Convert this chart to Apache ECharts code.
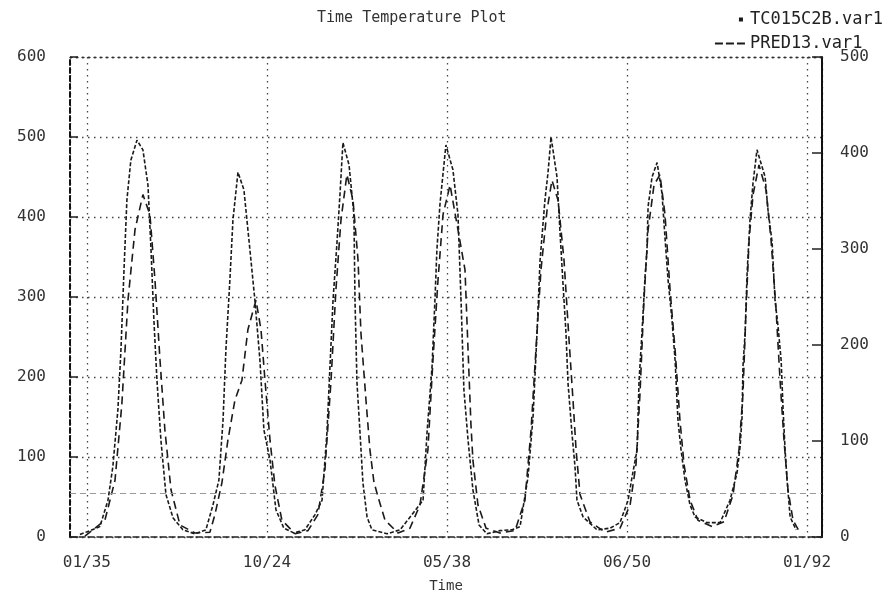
<!DOCTYPE html>
<html>
<head>
<meta charset="utf-8">
<script src="https://cdn.jsdelivr.net/npm/echarts@6/dist/echarts.min.js"></script>
<style>
html,body{margin:0;padding:0;background:#fff;}
#chart{width:894px;height:599px;}
</style>
</head>
<body>
<div id="chart"></div>
<script>
// ---- data ----
const titleText = 'Time Temperature Plot';
const seriesNames = ['TC015C2B.var1', 'PRED13.var1'];
const xLabels = ['01/35', '10/24', '05/38', '06/50', '01/92'];
const leftTicks = [0, 100, 200, 300, 400, 500, 600];
const rightTicks = [0, 100, 200, 300, 400, 500];
const refLevel = 55;

const timeA = [-0.039,0.072,0.117,0.144,0.172,0.189,0.206,0.222,0.244,0.278,0.311,0.339,0.356,0.372,0.389,0.411,0.439,0.478,0.533,0.600,0.661,
  0.700,0.733,0.756,0.772,0.794,0.811,0.839,0.872,0.900,0.933,0.961,0.983,1.017,1.050,1.094,1.150,1.211,
  1.267,1.306,1.333,1.350,1.367,1.389,1.406,1.422,1.456,1.483,1.489,1.500,1.517,1.533,1.556,1.583,1.667,1.739,
  1.806,1.867,1.889,1.917,1.933,1.944,1.961,1.994,2.033,2.061,2.078,2.094,2.117,2.144,2.178,2.222,2.294,2.361,
  2.406,2.450,2.478,2.500,2.517,2.544,2.561,2.578,2.611,2.628,2.644,2.661,2.672,2.694,2.711,2.722,2.756,2.833,2.906,2.961,
  3.006,3.028,3.056,3.067,3.083,3.100,3.111,3.117,3.139,3.167,3.194,3.211,3.228,3.250,3.267,3.283,3.300,3.322,3.350,3.378,3.444,3.517,
  3.572,3.611,3.628,3.639,3.644,3.656,3.667,3.683,3.700,3.722,3.767,3.783,3.806,3.822,3.839,3.856,3.867,3.878,3.889,3.906,3.939];
const tempA = [3,13,46,88,159,234,334,421,471,496,484,440,359,271,196,121,53,24,9,4,9,
  40,71,146,234,321,396,456,434,371,296,221,134,96,34,11,5,9,
  28,46,130,213,296,368,430,493,465,403,296,193,130,68,25,9,4,9,
  28,46,130,213,296,359,416,490,459,403,296,184,121,59,15,4,8,9,
  13,75,150,255,346,421,455,500,450,380,318,255,193,130,88,46,25,9,11,18,
  46,75,109,196,255,325,359,413,450,468,430,374,321,271,221,146,109,71,40,25,18,18,
  46,80,113,150,213,255,330,396,443,484,450,409,368,296,263,221,159,109,71,25,9];

const timeB = [-0.011,0.100,0.156,0.194,0.228,0.267,0.311,0.350,0.378,0.406,0.433,0.467,0.517,0.600,0.683,
  0.711,0.750,0.783,0.822,0.861,0.894,0.939,0.967,0.989,1.017,1.044,1.083,1.156,1.228,
  1.283,1.322,1.356,1.383,1.411,1.444,1.478,1.506,1.522,1.550,1.572,1.594,1.617,1.656,1.728,
  1.794,1.850,1.894,1.922,1.950,1.978,2.017,2.061,2.100,2.117,2.133,2.144,2.172,2.217,2.294,
  2.378,2.433,2.467,2.494,2.522,2.556,2.583,2.617,2.650,2.678,2.700,2.717,2.739,2.794,2.878,2.961,
  3.017,3.050,3.072,3.094,3.117,3.150,3.183,3.211,3.239,3.267,3.294,3.317,3.350,3.394,3.472,3.539,
  3.589,3.622,3.644,3.661,3.678,3.700,3.733,3.772,3.800,3.828,3.850,3.872,3.894,3.922,3.961];
const tempB = [1,21,71,166,296,384,428,403,321,221,134,59,15,5,6,
  28,68,121,171,196,259,296,259,196,121,65,21,4,8,
  28,84,196,309,396,453,421,346,255,171,109,69,50,21,5,
  11,40,109,221,321,403,440,384,334,234,141,96,40,11,5,
  8,46,134,234,334,409,446,421,346,246,171,109,53,19,6,11,
  40,91,179,296,384,440,453,403,309,234,146,90,46,21,13,19,
  53,109,179,284,371,428,465,434,371,284,196,121,59,21,5];

const xMin = -0.094, xMax = 4.083;

const pairs = (xs, ys) => xs.map((x, i) => [x, ys[i]]);
const mono = '"DejaVu Sans Mono", "Liberation Mono", monospace';
const ink = '#1a1a1a';

const chart = echarts.init(document.getElementById('chart'), null, {renderer: 'canvas'});
chart.setOption({
  animation: false,
  backgroundColor: '#ffffff',
  title: {
    text: titleText,
    left: 312, top: 6,
    textStyle: {fontFamily: mono, fontSize: 15, fontWeight: 'normal', color: '#333'}
  },
  legend: {
    orient: 'vertical', right: 6, top: 6, itemGap: 7, itemWidth: 30, itemHeight: 10,
    align: 'left', symbolKeepAspect: true,
    textStyle: {fontFamily: mono, fontSize: 17, color: '#222'},
    data: [
      {name: seriesNames[0], icon: 'path://M22,3h4v4h-4z M0,0h0.1v0.1h-0.1z M0,9.9h0.1v0.1h-0.1z'},
      {name: seriesNames[1], icon: 'path://M0,4h8v2h-8z M11,4h8v2h-8z M22,4h8v2h-8z'}
    ]
  },
  grid: {left: 70, right: 72, top: 57, bottom: 62, show: false},
  xAxis: [{
    type: 'value', min: xMin, max: xMax, position: 'bottom',
    name: 'Time', nameLocation: 'middle', nameGap: 42,
    nameTextStyle: {fontFamily: mono, fontSize: 14, color: '#333'},
    axisLine: {show: true, onZero: false, lineStyle: {color: '#222', width: 1.5, type: [6, 3]}},
    axisTick: {show: false},
    axisLabel: {
      margin: 18, fontFamily: mono, fontSize: 16, color: '#333',
      formatter: v => { const i = Math.round(v); return Math.abs(v - i) < 1e-6 && i >= 0 && i < xLabels.length ? xLabels[i] : ''; }
    },
    splitLine: {show: true, lineStyle: {color: '#444', width: 1.3, type: [1.5, 4.5]}}
  }, {
    type: 'value', min: xMin, max: xMax, position: 'top',
    axisLine: {show: true, onZero: false, lineStyle: {color: '#333', width: 1.3, type: [2, 4]}},
    axisTick: {show: false}, axisLabel: {show: false}, splitLine: {show: false}
  }],
  yAxis: [{
    type: 'value', min: leftTicks[0], max: leftTicks[leftTicks.length - 1], interval: 100, position: 'left',
    axisLine: {show: true, onZero: false, lineStyle: {color: '#111', width: 2, type: [5, 3]}},
    axisTick: {show: true, inside: true, length: 8, lineStyle: {color: '#222', width: 1.5}},
    axisLabel: {margin: 24, fontFamily: mono, fontSize: 16, color: '#333'},
    splitLine: {show: true, lineStyle: {color: '#444', width: 1.3, type: [1.5, 4.5]}}
  }, {
    type: 'value', min: rightTicks[0], max: rightTicks[rightTicks.length - 1], interval: 100, position: 'right',
    axisLine: {show: true, onZero: false, lineStyle: {color: '#111', width: 2}},
    axisTick: {show: true, inside: true, length: 10, lineStyle: {color: '#222', width: 1.5}},
    axisLabel: {margin: 18, fontFamily: mono, fontSize: 16, color: '#333'},
    splitLine: {show: false}
  }],
  series: [{
    name: seriesNames[0], type: 'line', xAxisIndex: 0, yAxisIndex: 0,
    data: pairs(timeA, tempA), showSymbol: false, symbol: 'none',
    lineStyle: {color: ink, width: 1.6, type: [4, 2]}, itemStyle: {color: ink},
    markLine: {
      silent: true, symbol: 'none', label: {show: false},
      lineStyle: {color: '#999', width: 1.2, type: [6, 4]},
      data: [{yAxis: refLevel}]
    }
  }, {
    name: seriesNames[1], type: 'line', xAxisIndex: 0, yAxisIndex: 0,
    data: pairs(timeB, tempB), showSymbol: false, symbol: 'none',
    lineStyle: {color: ink, width: 1.6, type: [8, 5]}, itemStyle: {color: ink}
  }]
});
</script>
</body>
</html>
